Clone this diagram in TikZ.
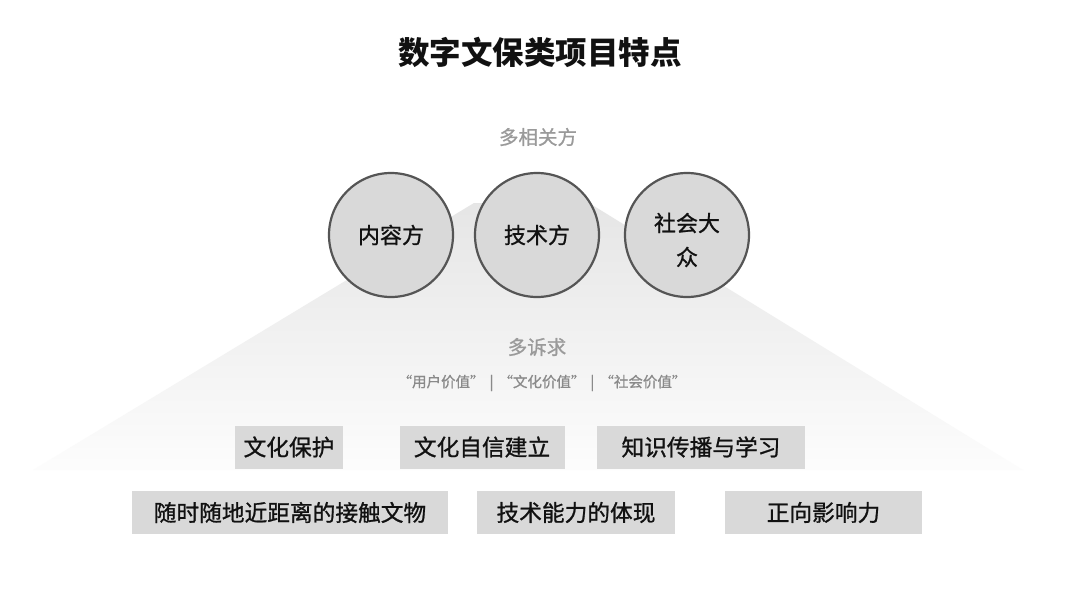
\documentclass[tikz,border=0pt]{standalone}
\usepackage{fontspec}
\setmainfont{Noto Sans CJK SC}
\newfontfamily\medfont{Noto Sans CJK SC}[FakeBold=0.9]
\definecolor{boxgray}{HTML}{D9D9D9}
\definecolor{rimgray}{HTML}{555555}
\definecolor{labgray}{HTML}{9A9A9A}
\definecolor{subgray}{HTML}{8A8A8A}
\definecolor{inkblack}{HTML}{111111}
\tikzset{
  circnode/.style={circle, minimum size=124pt, inner sep=0pt, draw=rimgray, line width=2.2pt, fill=boxgray, text=inkblack, font=\medfont\fontsize{22}{34}\selectfont, align=center},
  boxnode/.style={rectangle, fill=boxgray, minimum height=43pt, inner sep=0pt, text=inkblack, font=\medfont\fontsize{22.7}{26}\selectfont},
  labnode/.style={text=labgray, font=\medfont\fontsize{19.5}{22}\selectfont},
}
\begin{document}
\begin{tikzpicture}[x=1pt,y=-1pt]
\useasboundingbox (0,0) rectangle (1080,602);
\fill[white] (0,0) rectangle (1080,602);
\shade[top color=black!10, bottom color=black!1] (474,203) -- (589,203) -- (1023,470) -- (33,470) -- cycle;
\node[text=inkblack, font=\fontsize{31.5}{34}\selectfont\bfseries] (title) at (540,52) {数字文保类项目特点};
\node[labnode] (multi) at (538,137) {多相关方};
\node[circnode] (c1) at (391,235) {内容方};
\node[circnode] (c2) at (537,235) {技术方};
\node[circnode] (c3) at (687,235) {};
\node[text=inkblack, font=\medfont\fontsize{22}{34}\selectfont, align=center] (c3t) at ([yshift=-5pt]c3.center) {社会大\\众};
\node[labnode] (needs) at (537,347) {多诉求};
\node[text=subgray, font=\medfont\fontsize{14.5}{16}\selectfont] (values) at (542,383) {“用户价值”\hspace{5pt}|\hspace{5pt}“文化价值”\hspace{5pt}|\hspace{5pt}“社会价值”};
\node[boxnode, minimum width=108pt] (b1) at (289,447) {文化保护};
\node[boxnode, minimum width=165pt] (b2) at (482,447) {文化自信建立};
\node[boxnode, minimum width=208pt] (b3) at (701,447) {知识传播与学习};
\node[boxnode, minimum width=316pt] (b4) at (290,512.5) {随时随地近距离的接触文物};
\node[boxnode, minimum width=198pt] (b5) at (576,512.5) {技术能力的体现};
\node[boxnode, minimum width=197pt] (b6) at (823.5,512.5) {正向影响力};
\end{tikzpicture}
\end{document}
